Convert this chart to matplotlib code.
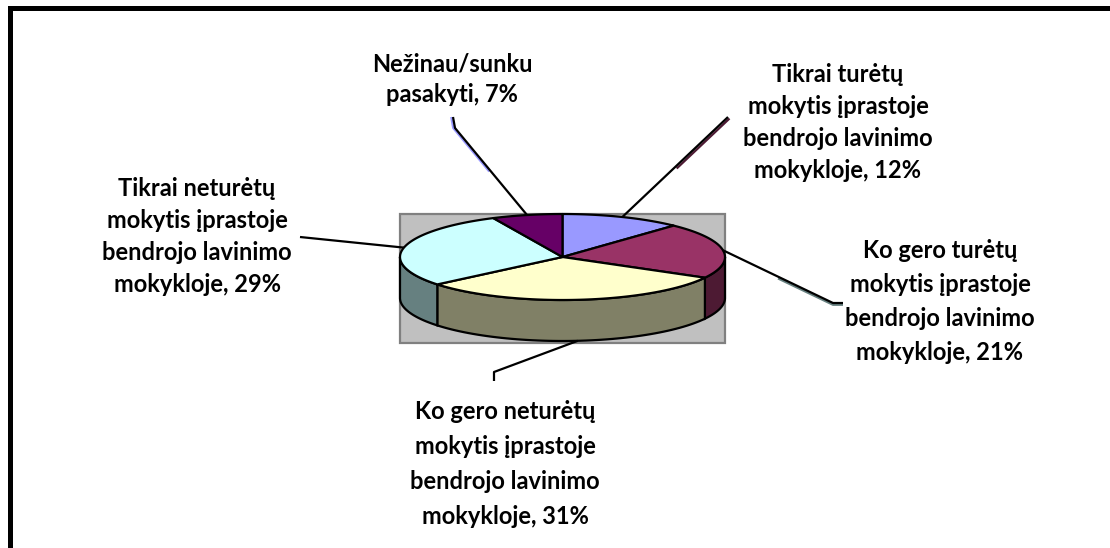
import numpy as np
import matplotlib.pyplot as plt
from matplotlib.patches import Polygon, Rectangle

# data: answers, share in %, clockwise from 12 o'clock
labels = ['Tikrai turėtų\nmokytis įprastoje\nbendrojo lavinimo\nmokykloje, 12%',
          'Ko gero turėtų\nmokytis įprastoje\nbendrojo lavinimo\nmokykloje, 21%',
          'Ko gero neturėtų\nmokytis įprastoje\nbendrojo lavinimo\nmokykloje, 31%',
          'Tikrai neturėtų\nmokytis įprastoje\nbendrojo lavinimo\nmokykloje, 29%',
          'Nežinau/sunku\npasakyti, 7%']
shares = [12, 21, 31, 29, 7]

top_colors = ['#9999FF', '#993366', '#FFFFCC', '#CCFFFF', '#660066']
side_colors = ['#4D4D80', '#4D1A33', '#808066', '#668080', '#330033']
# faint coloured shadow next to some leader lines (None = no shadow)
shadow_colors = ['#4D1A33', '#668080', None, None, '#9999FF']
shadow_offsets = [(1.5, 1.5), (0, 1.8), (0, 0), (0, 0), (-1.8, 0)]

# layout (pixel coords, y down)
W, H = 1110, 548
cx, cy, rx, ry, depth = 562.5, 257, 162.5, 43, 41
label_xy = [(838, 122), (940, 302), (505, 464), (197, 236), (452, 79)]
label_gap = [32, 34, 35, 32, 30]
leader_ends = [[(728, 117)],
               [(833, 303), (843, 303)],
               [(494, 372), (494, 381)],
               [(300, 237)],
               [(455, 128), (453, 117)]]

fig = plt.figure(figsize=(W / 100, H / 100), dpi=100)
ax = fig.add_axes([0, 0, 1, 1])
ax.set_xlim(0, W)
ax.set_ylim(H, 0)
ax.axis('off')


def pt(a, dy=0):
    a = np.radians(a)
    return cx + rx * np.cos(a), cy - ry * np.sin(a) + dy


# plot area
ax.add_patch(Rectangle((400, 214), 325, 129, facecolor='#C0C0C0',
                       edgecolor='#808080', lw=1.6, zorder=1))

cum = np.concatenate([[0], np.cumsum(shares)])
starts = 90 - 3.6 * cum[:-1]
ends = 90 - 3.6 * cum[1:]

# side walls (front half only)
for a1, a2, c in zip(starts, ends, side_colors):
    hi, lo = min(a1, 0), max(a2, -180)
    if hi <= lo:
        continue
    t = np.linspace(lo, hi, 60)
    upper = [pt(a) for a in t]
    lower = [pt(a, depth) for a in t[::-1]]
    ax.add_patch(Polygon(upper + lower, closed=True, facecolor=c,
                         edgecolor='black', lw=1.6, zorder=2))

# top faces
for a1, a2, c in zip(starts, ends, top_colors):
    t = np.linspace(a1, a2, 80)
    verts = [(cx, cy)] + [pt(a) for a in t]
    ax.add_patch(Polygon(verts, closed=True, facecolor=c,
                         edgecolor='black', lw=1.6, zorder=3,
                         joinstyle='round'))

# leader lines and labels
for k, lab in enumerate(labels):
    m = (starts[k] + ends[k]) / 2
    x0, y0 = pt(m, depth if np.sin(np.radians(m)) < 0 else 0)
    xs = np.array([x0] + [p[0] for p in leader_ends[k]])
    ys = np.array([y0] + [p[1] for p in leader_ends[k]])
    if shadow_colors[k]:
        dx, dy = shadow_offsets[k]
        # shadow skips the part right at the pie edge
        sx = np.concatenate([[xs[0] + 0.5 * (xs[1] - xs[0])], xs[1:]])
        sy = np.concatenate([[ys[0] + 0.5 * (ys[1] - ys[0])], ys[1:]])
        ax.plot(sx + dx, sy + dy, color=shadow_colors[k],
                lw=1.6, zorder=4, solid_capstyle='butt')
    ax.plot(xs, ys, color='black', lw=1.6, zorder=5, solid_capstyle='butt')
    lines = lab.split('\n')
    n = len(lines)
    lx, ly = label_xy[k]
    for i, s in enumerate(lines):
        ax.text(lx, ly + (i - (n - 1) / 2) * label_gap[k], s, ha='center',
                va='center', fontsize=17, fontweight='bold',
                family='Lato', color='black')

# chart border (only top/left edges show)
ax.plot([9.5, 9.5, W], [H, 7.5, 7.5], color='black', lw=3.6,
        solid_joinstyle='miter')

fig.savefig('out.png', dpi=100)
